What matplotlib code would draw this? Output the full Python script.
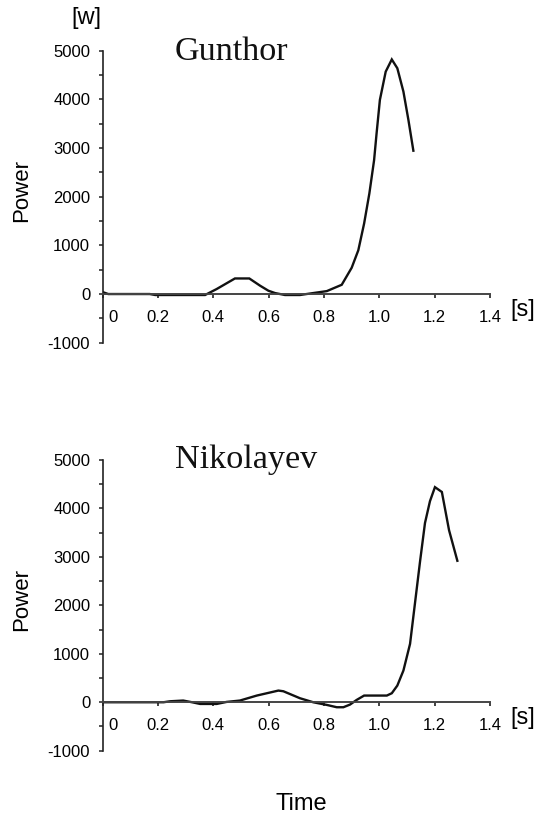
import matplotlib
matplotlib.use("Agg")
import matplotlib.pyplot as plt
from matplotlib.ticker import MultipleLocator

plt.rcParams['font.family'] = ['Liberation Sans', 'DejaVu Sans']

# ---- data ----
gunthor_t = [0.0, 0.02, 0.17, 0.19, 0.37, 0.412, 0.478, 0.530, 0.569, 0.599, 0.623, 0.659,
             0.713, 0.761, 0.81, 0.864, 0.900, 0.924, 0.945, 0.964, 0.981, 0.99, 1.002, 1.023,
             1.045, 1.065, 1.087, 1.105, 1.123]
gunthor_p = [40, 0, 0, -20, -20, 103, 320, 320, 171, 68, 20, -20,
             -20, 20, 60, 190, 540, 900, 1450, 2070, 2750, 3300, 3990, 4570,
             4820, 4640, 4160, 3580, 2945]

nikolayev_t = [0.0, 0.22, 0.243, 0.291, 0.323, 0.352, 0.412, 0.448, 0.496, 0.557, 0.635, 0.653,
               0.713, 0.761, 0.810, 0.846, 0.870, 0.894, 0.918, 0.945, 1.027, 1.045, 1.065,
               1.087, 1.111, 1.130, 1.147, 1.165, 1.183, 1.201, 1.226, 1.252, 1.282]
nikolayev_p = [0, 0, 20, 35, 0, -35, -35, 7, 35, 138, 241, 227,
               83, 0, -55, -103, -103, -48, 48, 138, 138, 186, 344,
               654, 1205, 2100, 2900, 3700, 4150, 4440, 4340, 3550, 2920]

athletes = ["Gunthor", "Nikolayev"]
x_ticks = [0, 0.2, 0.4, 0.6, 0.8, 1.0, 1.2, 1.4]
x_tick_labels = ["0", "0.2", "0.4", "0.6", "0.8", "1.0", "1.2", "1.4"]
y_ticks = [-1000, 0, 1000, 2000, 3000, 4000, 5000]
y_tick_labels = ["-1000", "0", "1000", "2000", "3000", "4000", "5000"]

W, H = 548, 818
fig = plt.figure(figsize=(W / 100, H / 100), dpi=100)
fig.patch.set_facecolor('white')


def fx(x):
    return x / W


def fy(y):
    return 1 - y / H


axes_px = [(102.7, 50.7, 490, 342.7), (102.7, 460.0, 490, 750.7)]
series = [(gunthor_t, gunthor_p), (nikolayev_t, nikolayev_p)]
title_base = [60, 468]

for i, ((x0, y0, x1, y1), (t, p)) in enumerate(zip(axes_px, series)):
    ax = fig.add_axes([fx(x0), fy(y1), (x1 - x0) / W, (y1 - y0) / H])
    ax.plot(t, p, color='#111111', lw=1.7, solid_joinstyle='miter')
    ax.set_xlim(0, 1.4)
    ax.set_ylim(-1000, 5000)
    for s in ['top', 'right']:
        ax.spines[s].set_visible(False)
    ax.spines['bottom'].set_position(('data', 0))
    ax.spines['bottom'].set_color('#444444')
    ax.spines['bottom'].set_linewidth(1.4)
    ax.spines['left'].set_color('#222222')
    ax.spines['left'].set_linewidth(1.2)
    ax.set_yticks(y_ticks, labels=y_tick_labels)
    ax.yaxis.set_minor_locator(MultipleLocator(500))
    ax.set_xticks(x_ticks, labels=[""] + x_tick_labels[1:])
    ax.tick_params(axis='y', which='both', direction='out', length=3, width=1.1,
                   labelsize=12, pad=6, color='#222222')
    ax.tick_params(axis='x', direction='out', length=3, width=1.3,
                   labelsize=12, pad=8.5, color='#333333')
    ax.annotate(x_tick_labels[0], xy=(0, 0), xycoords='data',
                xytext=(7.5, -11.5), textcoords='offset points',
                ha='center', va='top', fontsize=12)
    fig.text(fx(175), fy(title_base[i]), athletes[i], family='Liberation Serif',
             fontsize=24.6, ha='left', va='baseline', color='#111111')
    fig.text(fx(22), fy((y0 + y1) / 2 - 6), "Power", rotation=90,
             ha='center', va='center', fontsize=16)
    zero_y = y1 - (y1 - y0) / 6
    fig.text(fx(522.5), fy(zero_y + 16), "[s]", ha='center', va='center', fontsize=17)

fig.text(fx(86), fy(18), "[w]", ha='center', va='center', fontsize=17)
fig.text(fx(301), fy(810), "Time", ha='center', va='baseline', fontsize=17)

fig.savefig("out.png", dpi=100, facecolor='white')
